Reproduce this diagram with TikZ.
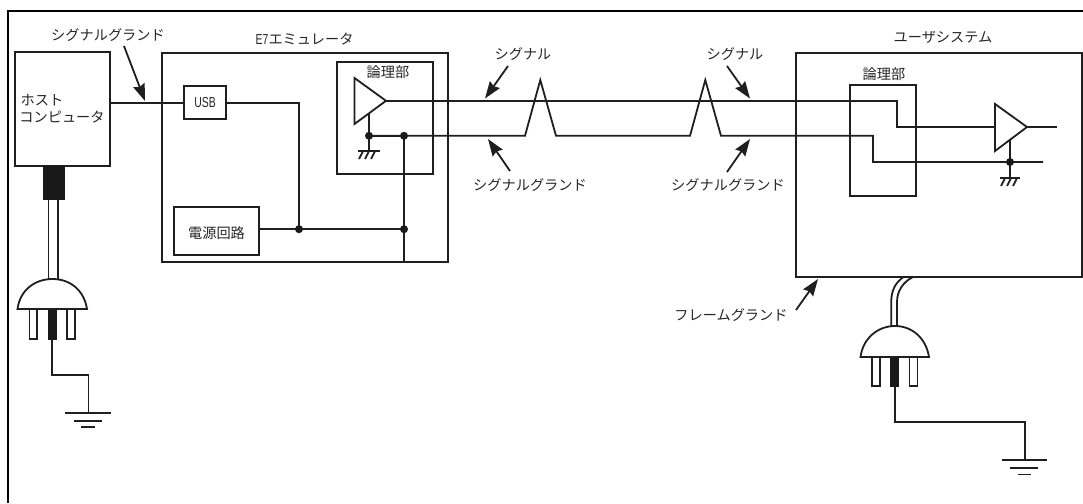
\documentclass[tikz,border=0pt]{standalone}
\usepackage{fontspec}
\usetikzlibrary{arrows.meta,calc}
\setmainfont{Noto Sans CJK JP}
\newfontfamily\narrowlatin[FakeStretch=0.72]{Liberation Sans}
\tikzset{
  x=1pt,y=-1pt,
  wire/.style={line width=1.8pt,draw=black!88,line join=miter},
  box/.style={draw=black!88,line width=1.8pt,fill=white,inner sep=0pt,outer sep=0pt,rectangle},
  label/.style={inner sep=0pt,outer sep=0pt,font=\fontsize{14.2}{15}\selectfont,text=black!85,anchor=center},
  latin/.style={inner sep=0pt,outer sep=0pt,font=\fontsize{14.5}{15}\selectfont\narrowlatin,text=black!85,anchor=center},
  callout/.style={line width=1.8pt,draw=black!88,-{Stealth[length=17pt,width=12pt,inset=2pt]}},
  dot/.style={circle,fill=black!90,inner sep=0pt,minimum size=8pt,outer sep=0pt},
  amp/.style={draw=black!88,line width=1.8pt,fill=white,line join=miter},
  prong/.style={draw=black!88,line width=1.8pt,fill=white},
}
\begin{document}
\begin{tikzpicture}
\useasboundingbox (0,0) rectangle (1083,503);
% frame
\coordinate (fbl) at (8,503);
\coordinate (ftl) at (8,11);
\coordinate (ftr) at (1083,11);
\draw[line width=2.2pt,black] (fbl) -- (ftl) -- (ftr);

% boxes
\node[box,minimum width=95pt,minimum height=114pt] (host) at (62.5,109) {};
\node[box,minimum width=286pt,minimum height=209pt] (e7) at (305,157.5) {};
\node[box,minimum width=42pt,minimum height=33pt] (usb) at (205,102.8) {};
\node[box,minimum width=96pt,minimum height=112pt] (logicA) at (385,118) {};
\node[box,minimum width=85pt,minimum height=48pt] (power) at (216.5,231) {};
\node[box,minimum width=286pt,minimum height=224pt] (user) at (939.3,165) {};
\node[box,minimum width=66pt,minimum height=111pt] (logicB) at (883,140.5) {};

% points
\coordinate (j1) at (299,229.2);
\coordinate (j2) at (404,229.2);
\coordinate (j3) at (404,135.8);
\coordinate (j4) at (369,135.8);
\coordinate (ampAout) at (386,100.8);
\coordinate (ampBin) at (995,127);
\coordinate (ampBout) at (1027,127);
\coordinate (j5) at (1010,162);

% wires
\draw[wire] (host.east |- usb.west) -- (usb.west);
\draw[wire] (usb.east) -| (j1);
\draw[wire] (power.east |- j1) -- (j2);
\draw[wire] (j3) -- (j3 |- e7.south);
\draw[wire] (j4) -- (j3);

% amp A and ground
\draw[wire] (369,112) -- (j4) -- (369,151);
\draw[amp] (354.5,78) -- (354.5,124) -- (ampAout) -- cycle;
\draw[wire] (358,151) -- (380,151);
\draw[wire] (359,159) -- (363,151) (365,159) -- (369,151) (371,159) -- (375,151);

% signal line
\draw[wire] (ampAout) -- (896.7,100.8) -- (896.7,127) -- (ampBin);
\draw[wire] (j4) -- (525,135.8) -- (540.3,80) -- (556,135.8) -- (690,135.8) -- (705.3,80) -- (721,135.8)
  -- (873,135.8) -- (873,162) -- (1043,162);

% amp B
\draw[wire] (1010,140) -- (1010,178);
\draw[amp] (995,104) -- (995,151) -- (ampBout) -- cycle;
\draw[wire] (ampBout) -- (1057,127);
\draw[wire] (1000,178) -- (1020,178);
\draw[wire] (1001,186) -- (1005,178) (1007,186) -- (1011,178) (1013,186) -- (1017,178);

\foreach \p in {j1,j2,j3,j4,j5} \node[dot] at (\p) {};

% host plug
\fill[black!90] (43,166) rectangle (65,200);
\draw[wire] (48.5,200) -- (48.5,279);
\draw[wire] (58,200) -- (58,279);
\draw[prong] (29.5,309) rectangle (37,339);
\draw[prong] (67,309) rectangle (75,339);
\fill[black!90] (47.5,309) rectangle (56.5,339.5);
\draw[amp] (17.5,309) .. controls (20,290) and (35,279) .. (52.5,279) .. controls (70,279) and (84,290) .. (87,309) -- cycle;
\draw[wire] (52,339) -- (52,375) -- (88.5,375) -- (88.5,413);
\draw[wire] (65,413) -- (111,413);
\draw[wire] (74,421) -- (102,421);
\draw[wire] (81,427) -- (95,427);

% user plug
\draw[wire] (891.2,326) -- (891.2,302) .. controls (891.2,290) and (896,282) .. (903.5,277);
\draw[wire] (897,326) -- (897,302) .. controls (897,291) and (903,282) .. (913,277);
\draw[prong] (872,357) rectangle (880,386);
\draw[prong] (909.5,357) rectangle (917.5,386);
\fill[black!90] (890,357) rectangle (899,386.5);
\draw[amp] (860.5,357) .. controls (863,338) and (878,326) .. (895,326) .. controls (912,326) and (926,338) .. (929,357) -- cycle;
\draw[wire] (894.7,386) -- (894.7,422) -- (1025,422) -- (1025,460);
\draw[wire] (1002,460) -- (1047,460);
\draw[wire] (1010,468) -- (1038,468);
\draw[wire] (1018,474.5) -- (1031,474.5);

% labels
\node[label] (tSGtop) at (108,35) {シグナルグランド};
\node[latin] (tE7A) at (262,39.5) {E7};
\node[label] (tE7B) at (311,39.5) {エミュレータ};
\node[label] (tHost1) at (42,100) {ホスト};
\node[label] (tHost2) at (62,117) {コンピュータ};
\node[latin] (tUSB) at (205,103) {USB};
\node[label] (tLogA) at (388,72) {論理部};
\node[label] (tPower) at (216.5,233.5) {電源回路};
\node[label] (tSig1) at (523,54) {シグナル};
\node[label] (tSig2) at (735,54) {シグナル};
\node[label] (tSG1) at (530,185.5) {シグナルグランド};
\node[label] (tSG2) at (728,185.5) {シグナルグランド};
\node[label] (tUser) at (943,37) {ユーザシステム};
\node[label] (tLogB) at (884,74.5) {論理部};
\node[label] (tFrame) at (731,315) {フレームグランド};

% callouts
\coordinate (a1s) at (124,46); \coordinate (a1e) at (145,101);
\coordinate (a2s) at (508,66); \coordinate (a2e) at (485,98.5);
\coordinate (a3s) at (727,66); \coordinate (a3e) at (750,98.5);
\coordinate (a4s) at (510,171); \coordinate (a4e) at (488,139);
\coordinate (a5s) at (727,172); \coordinate (a5e) at (750,139);
\coordinate (a6s) at (796,310); \coordinate (a6e) at (818,279);
\foreach \n in {1,...,6} \draw[callout] (a\n s) -- (a\n e);
\end{tikzpicture}
\end{document}
